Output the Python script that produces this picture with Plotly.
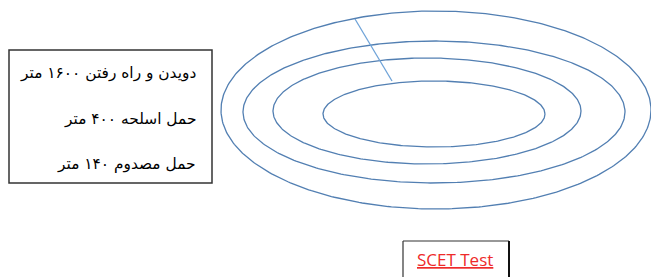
import numpy as np
import plotly.graph_objects as go

# --- data ---
ring_names = ["outer", "second", "third", "inner"]
ring_cx = [436, 434, 427, 434]
ring_cy = [110, 112, 111, 114]
ring_rx = [215, 191, 154, 111]
ring_ry = [99, 71, 53, 33]
marker_x = [355, 392]
marker_y = [19, 81]
legend_lines = ["دویدن و راه رفتن ۱۶۰۰ متر", "حمل اسلحه ۴۰۰ متر", "حمل مصدوم ۱۴۰ متر"]
legend_y = [73, 119, 164]
title_text = "SCET Test"

fig = go.Figure()
t = np.linspace(0, 2 * np.pi, 400)
for name, cx, cy, rx, ry in zip(ring_names, ring_cx, ring_cy, ring_rx, ring_ry):
    fig.add_trace(go.Scatter(x=cx + rx * np.cos(t), y=cy + ry * np.sin(t), mode="lines",
                             line=dict(color="#527fb2", width=1.3), name=name,
                             hoverinfo="skip", showlegend=False))
fig.add_trace(go.Scatter(x=marker_x, y=marker_y, mode="lines",
                         line=dict(color="#6fa3d8", width=1.3), showlegend=False, hoverinfo="skip"))

# left legend box
fig.add_shape(type="rect", x0=9, x1=212, y0=50, y1=183, xref="x", yref="y",
              line=dict(color="#333333", width=1.5), fillcolor="white", layer="below")
for txt, y in zip(legend_lines, legend_y):
    fig.add_annotation(x=198, y=y, xref="x", yref="y", text=txt, showarrow=False,
                       xanchor="right", yanchor="middle",
                       font=dict(family="DejaVu Sans", size=15.4, color="#000000"))

# bottom title box
fig.add_shape(type="line", x0=403, x1=403, y0=241, y1=280, xref="x", yref="y",
              line=dict(color="#333333", width=1.2))
fig.add_shape(type="line", x0=403, x1=509, y0=241, y1=241, xref="x", yref="y",
              line=dict(color="#333333", width=1.2))
fig.add_shape(type="line", x0=509, x1=509, y0=241, y1=280, xref="x", yref="y",
              line=dict(color="#111111", width=2))
fig.add_annotation(x=455, y=259, xref="x", yref="y", text="<u>" + title_text + "</u>",
                   showarrow=False, xanchor="center", yanchor="middle",
                   font=dict(family="Open Sans", size=17, color="#ee2a2a"))

fig.update_layout(width=651, height=277, margin=dict(l=0, r=0, t=0, b=0),
                  paper_bgcolor="white", plot_bgcolor="white",
                  xaxis=dict(range=[0, 651], visible=False, fixedrange=True),
                  yaxis=dict(range=[277, 0], visible=False, fixedrange=True))
fig.write_html("out.html", config={"displayModeBar": False},
               post_script="document.body.style.margin='0px';document.body.style.overflow='hidden';")
